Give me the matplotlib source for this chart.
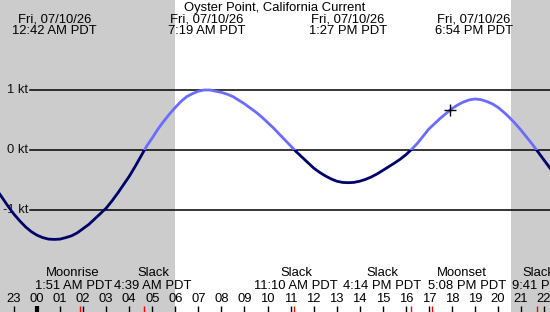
import matplotlib
matplotlib.use("Agg")
import matplotlib.pyplot as plt
from matplotlib.patches import Rectangle
import matplotlib.transforms as mtransforms

plt.rcParams['font.family'] = ['Liberation Sans', 'DejaVu Sans']

# ---------------- data ----------------
title = "Oyster Point, California Current"
# current speed (kt), hours relative to midnight 07/10/26
hours = [-2.0, -1.75, -1.5, -1.25, -1.0, -0.75, -0.5, -0.25, 0.0, 0.25, 0.5, 0.75,
         1.0, 1.25, 1.5, 1.75, 2.0, 2.25, 2.5, 2.75, 3.0, 3.25, 3.5, 3.75,
         4.0, 4.25, 4.5, 4.75, 5.0, 5.25, 5.5, 5.75, 6.0, 6.25, 6.5, 6.75,
         7.0, 7.25, 7.5, 7.75, 8.0, 8.25, 8.5, 8.75, 9.0, 9.25, 9.5, 9.75,
         10.0, 10.25, 10.5, 10.75, 11.0, 11.25, 11.5, 11.75, 12.0, 12.25, 12.5, 12.75,
         13.0, 13.25, 13.5, 13.75, 14.0, 14.25, 14.5, 14.75, 15.0, 15.25, 15.5, 15.75,
         16.0, 16.25, 16.5, 16.75, 17.0, 17.25, 17.5, 17.75, 18.0, 18.25, 18.5, 18.75,
         19.0, 19.25, 19.5, 19.75, 20.0, 20.25, 20.5, 20.75, 21.0, 21.25, 21.5, 21.75,
         22.0, 22.25, 22.5]
speed = [-0.52, -0.66, -0.80, -0.94, -1.07, -1.18, -1.28, -1.36, -1.42, -1.46, -1.485, -1.49,
         -1.485, -1.46, -1.43, -1.38, -1.31, -1.24, -1.15, -1.06, -0.97, -0.85, -0.72, -0.58,
         -0.44, -0.28, -0.11, 0.06, 0.20, 0.35, 0.48, 0.60, 0.71, 0.81, 0.89, 0.94,
         0.98, 1.00, 1.00, 0.98, 0.96, 0.93, 0.89, 0.83, 0.77, 0.70, 0.63, 0.55,
         0.46, 0.37, 0.27, 0.17, 0.07, -0.03, -0.12, -0.21, -0.30, -0.37, -0.43, -0.48,
         -0.52, -0.54, -0.545, -0.54, -0.52, -0.49, -0.45, -0.40, -0.34, -0.28, -0.22, -0.155,
         -0.08, 0.01, 0.11, 0.23, 0.35, 0.44, 0.53, 0.61, 0.69, 0.75, 0.80, 0.835,
         0.85, 0.84, 0.81, 0.77, 0.71, 0.63, 0.54, 0.44, 0.33, 0.21, 0.09, -0.04,
         -0.17, -0.30, -0.42]

# max/min current events (top labels)
extreme_hours = [0.70, 7.317, 13.45, 18.90]
extreme_date = ["Fri, 07/10/26"] * 4
extreme_times = ["12:42 AM PDT", "7:19 AM PDT", "1:27 PM PDT", "6:54 PM PDT"]

# slack / moon events (bottom labels)
event_hours = [1.85, 4.65, 11.167, 16.233, 17.133, 21.683]
event_names = ["Moonrise", "Slack", "Slack", "Slack", "Moonset", "Slack"]
event_times = ["1:51 AM PDT", "4:39 AM PDT", "11:10 AM PDT", "4:14 PM PDT", "5:08 PM PDT", "9:41 PM PDT"]

hour_ticks = list(range(-1, 23))
hour_labels = ["23"] + ["%02d" % h for h in range(0, 23)]

sunrise = 5.98
sunset = 20.57
now_hour, now_speed = 17.92, 0.66

y_levels = [1, 0, -1]
y_labels = ["1 kt", "0 kt", "-1 kt"]

# ---------------- layout ----------------
W, H = 550, 312
X0, X1 = -1.605, 22.255
Y0, Y1 = -2.7, 2.5
FS = 9.4
flood_color = "#6b6bff"
ebb_color = "#00006a"
night_color = "#cccccc"
# label centres (pixels) for bottom labels, pushed to avoid overlap
event_name_px = [73, 153, 296, 382, 462, 538]
event_time_px = [74, 153, 296, 382, 467, 551]

fig = plt.figure(figsize=(W / 100, H / 100), dpi=100)
ax = fig.add_axes([0, 0, 1, 1])
ax.set_xlim(X0, X1)
ax.set_ylim(Y0, Y1)
ax.axis("off")

# night shading
ax.axvspan(X0, sunrise, color=night_color, lw=0, zorder=0)
ax.axvspan(sunset, X1, color=night_color, lw=0, zorder=0)

# grid lines and labels
ytrans = mtransforms.blended_transform_factory(ax.transAxes, ax.transData)
for lv, lab in zip(y_levels, y_labels):
    ax.axhline(lv, xmin=30 / W, xmax=1, color="black", lw=1.1, zorder=1)
    ax.text(28 / W, lv, lab, transform=ytrans, ha="right", va="center",
            fontsize=FS, color="#111111", zorder=2)

# curve, coloured by sign (ebb dark, flood light)
line_ebb, = ax.plot(hours, speed, color=ebb_color, lw=2.0, solid_capstyle="round", zorder=5)
line_ebb.set_clip_path(Rectangle((X0 - 5, Y0 - 5), 40, -(Y0 - 5), transform=ax.transData))
line_fl, = ax.plot(hours, speed, color=flood_color, lw=2.0, solid_capstyle="round", zorder=5)
line_fl.set_clip_path(Rectangle((X0 - 5, 0), 40, 10, transform=ax.transData))

ax.plot([now_hour], [now_speed], marker="+", color="black", ms=8, mew=1.0, zorder=6)

def fy(py):
    return 1 - py / H

bx = mtransforms.blended_transform_factory(ax.transData, ax.transAxes)

# title
ax.text(0.5, fy(8), title, transform=ax.transAxes, ha="center", va="center", fontsize=FS, color="black")

# top labels
for h, d, t in zip(extreme_hours, extreme_date, extreme_times):
    ax.text(h + 0.05, fy(19.5), d, transform=bx, ha="center", va="center", fontsize=FS)
    ax.text(h + 0.05, fy(31.5), t, transform=bx, ha="center", va="center", fontsize=FS)

# bottom labels
for n, t, nx, tx in zip(event_names, event_times, event_name_px, event_time_px):
    ax.text(nx / W, fy(273), n, transform=ax.transAxes, ha="center", va="center", fontsize=FS)
    ax.text(tx / W, fy(286), t, transform=ax.transAxes, ha="center", va="center", fontsize=FS)

# hour labels and ticks
for h, lab in zip(hour_ticks, hour_labels):
    ax.text(h, fy(298.5), lab, transform=bx, ha="center", va="center", fontsize=FS)
    lw = 3.0 if h == 0 else 1.0
    ax.plot([h, h], [fy(306), fy(312)], transform=bx, color="black", lw=lw,
            solid_capstyle="butt", zorder=3)

for h in event_hours:
    ax.plot([h, h], [fy(306), fy(312)], transform=bx, color="red", lw=1.0,
            solid_capstyle="butt", zorder=3)

fig.savefig("out.png", dpi=100)
